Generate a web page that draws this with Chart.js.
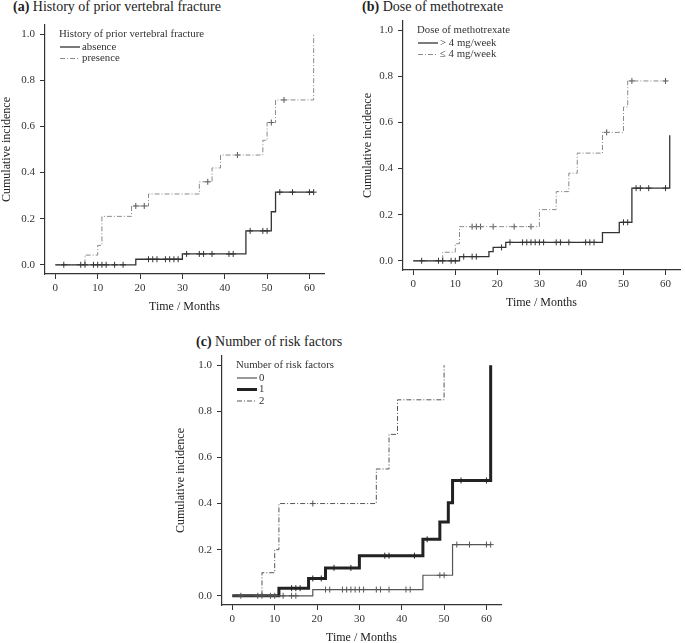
<!DOCTYPE html>
<html>
<head>
<meta charset="utf-8">
<script src="https://cdn.jsdelivr.net/npm/chart.js@4.4.1/dist/chart.umd.min.js"></script>
<style>
  html, body { margin: 0; padding: 0; background: #fff; overflow: hidden; }
  body { width: 685px; height: 643px; position: relative; }
  canvas { position: absolute; }
  .ttl { position: absolute; font: 14px "Liberation Serif", serif; color: #222; line-height: 16px; white-space: nowrap; }
  .ttl b { font-weight: bold; }
</style>
</head>
<body>
<div class="ttl" style="left:13px; top:-1px"><b>(a)</b> History of prior vertebral fracture</div>
<div class="ttl" style="left:362px; top:-1px"><b>(b)</b> Dose of methotrexate</div>
<div class="ttl" style="left:196px; top:334px"><b>(c)</b> Number of risk factors</div>
<canvas id="chartA" width="340" height="320" style="left:0px; top:0px"></canvas>
<canvas id="chartB" width="327" height="316" style="left:358px; top:0px"></canvas>
<canvas id="chartC" width="346" height="320" style="left:170px; top:331px"></canvas>
<script>
// tick labels
const xTickValues = [0, 10, 20, 30, 40, 50, 60];
const yTickValues = [0, 0.2, 0.4, 0.6, 0.8, 1.0];

// (a) history of prior vertebral fracture
const absenceTimes = [0, 19, 30, 45, 51, 52, 61];
const absenceCif = [0, 0.024, 0.047, 0.147, 0.23, 0.315, 0.315];
const absenceCensor = [2, 6, 7, 9, 10, 11, 12, 14, 16, 22, 23, 24, 26, 27, 28, 29, 31, 34, 35, 37, 41, 42, 46, 49, 50, 53, 56, 60, 61];
const presenceTimes = [0, 7, 10, 11, 18, 22, 34, 37, 39, 49, 50, 52, 61];
const presenceCif = [0, 0.042, 0.084, 0.21, 0.255, 0.307, 0.36, 0.42, 0.476, 0.54, 0.617, 0.715, 1.0];
const presenceCensor = [19, 21, 36, 43, 51, 54];

// (b) dose of methotrexate
const highDoseTimes = [0, 11, 18, 19, 22, 45, 49, 52, 61];
const highDoseCif = [0, 0.018, 0.04, 0.058, 0.08, 0.122, 0.167, 0.315, 0.545];
const highDoseCensor = [2, 6, 7, 9, 10, 12, 14, 15, 21, 23, 26, 27, 28, 29, 30, 31, 34, 35, 37, 41, 42, 43, 50, 51, 53, 54, 56, 60];
const lowDoseTimes = [0, 7, 10, 11, 30, 34, 37, 39, 45, 50, 51, 60];
const lowDoseCif = [0, 0.037, 0.074, 0.148, 0.222, 0.30, 0.38, 0.467, 0.557, 0.667, 0.78, 0.78];
const lowDoseCensor = [14, 15, 16, 19, 24, 28, 46, 52, 60];

// (c) number of risk factors
const risk0Times = [0, 19, 45, 52, 61];
const risk0Cif = [0, 0.027, 0.089, 0.222, 0.222];
const risk0Censor = [2, 6, 7, 9, 10, 12, 14, 15, 22, 23, 26, 27, 28, 29, 30, 31, 34, 35, 37, 41, 42, 49, 50, 53, 56, 60, 61];
const risk1Times = [0, 11, 18, 22, 30, 45, 49, 51, 52, 61];
const risk1Cif = [0, 0.033, 0.075, 0.121, 0.174, 0.245, 0.32, 0.403, 0.50, 1.0];
const risk1Censor = [14, 15, 16, 19, 21, 24, 28, 36, 37, 43, 46, 54, 60];
const risk2Times = [0, 7, 10, 11, 34, 37, 39, 50];
const risk2Cif = [0, 0.10, 0.20, 0.40, 0.55, 0.70, 0.85, 1.0];
const risk2Censor = [19];

Chart.defaults.font.family = '"Liberation Serif", serif';
Chart.defaults.color = '#333';

const dotDash = [5, 2, 1, 2];

//valor de la curva en el tiempo t
function stepAt(times, cif, t) {
  let v = cif[0];
  for (let i = 0; i < times.length; i++) {
    if (times[i] <= t) v = cif[i];
  }
  return v;
}

//curva escalonada + marcas de censura
function curveSets(times, cif, censor, style) {
  return [
    {
      data: times.map((t, i) => ({ x: t, y: cif[i] })),
      stepped: true,
      borderColor: style.color,
      borderWidth: style.width,
      borderDash: style.dash || [],
      pointRadius: 0,
      fill: false,
    },
    {
      data: censor.map((t) => ({ x: t, y: stepAt(times, cif, t) })),
      showLine: false,
      pointStyle: "cross",
      pointRadius: 3,
      borderColor: style.mark || style.color,
      borderWidth: 1,
    },
  ];
}

//leyenda dentro del area del grafico
const kmLegend = {
  id: "kmLegend",
  afterDraw(chart, args, opts) {
    const { ctx, chartArea } = chart;
    const x0 = chartArea.left + 14;
    const y0 = chartArea.top + 9;
    ctx.save();
    ctx.font = '10.8px "Liberation Serif"';
    ctx.fillStyle = "#333";
    ctx.textBaseline = "middle";
    ctx.fillText(opts.title, x0, y0);
    opts.items.forEach((it, i) => {
      const y = y0 + 13 + i * 11.5;
      ctx.beginPath();
      ctx.strokeStyle = it.color;
      ctx.lineWidth = it.width;
      ctx.setLineDash(it.dash || []);
      ctx.moveTo(x0 + 1, y);
      ctx.lineTo(x0 + 21, y);
      ctx.stroke();
      ctx.setLineDash([]);
      ctx.fillText(it.label, x0 + 23, y);
    });
    ctx.restore();
  },
};

function makeChart(id, datasets, legend, pad, yWidth, yTitlePad) {
  return new Chart(document.getElementById(id), {
    type: "line",
    data: { datasets: datasets },
    plugins: [kmLegend],
    options: {
      responsive: false,
      animation: false,
      events: [],
      layout: { padding: pad },
      plugins: {
        legend: { display: false },
        tooltip: { enabled: false },
        kmLegend: legend,
      },
      scales: {
        x: {
          type: "linear",
          min: -2.44,
          max: 63.44,
          afterBuildTicks: (s) => { s.ticks = xTickValues.map((v) => ({ value: v })); },
          afterFit: (s) => { s.height = 40; },
          grid: { drawOnChartArea: false, tickLength: 5, color: "#333" },
          border: { color: "#333", width: 1.2 },
          ticks: { font: { size: 11 }, color: "#333", padding: 3, maxRotation: 0 },
          title: { display: true, text: "Time / Months", font: { size: 12 }, color: "#222", padding: { top: 0, bottom: 0 } },
        },
        y: {
          type: "linear",
          min: -0.04,
          max: 1.04,
          afterBuildTicks: (s) => { s.ticks = yTickValues.map((v) => ({ value: v })); },
          afterFit: (s) => { s.width = yWidth; },
          grid: { drawOnChartArea: false, tickLength: 5, color: "#333" },
          border: { color: "#333", width: 1.2 },
          ticks: { font: { size: 11 }, color: "#333", padding: 5, callback: (v) => v.toFixed(1) },
          title: { display: true, text: "Cumulative incidence", font: { size: 12 }, color: "#222", padding: { top: yTitlePad, bottom: 0 } },
        },
      },
    },
  });
}

const solidA = { color: "#333", width: 1.3 };
const dashA = { color: "#8a8a8a", width: 1, dash: dotDash, mark: "#555" };

makeChart("chartA",
  [...curveSets(absenceTimes, absenceCif, absenceCensor, solidA),
   ...curveSets(presenceTimes, presenceCif, presenceCensor, dashA)],
  { title: "History of prior vertebral fracture", items: [
    { label: "absence", ...solidA },
    { label: "presence", ...dashA } ] },
  { left: 0, right: 16, top: 25, bottom: 6 }, 45, 0);

makeChart("chartB",
  [...curveSets(highDoseTimes, highDoseCif, highDoseCensor, solidA),
   ...curveSets(lowDoseTimes, lowDoseCif, lowDoseCensor, dashA)],
  { title: "Dose of methotrexate", items: [
    { label: "> 4 mg/week", ...solidA },
    { label: "≤ 4 mg/week", ...dashA } ] },
  { left: 0, right: 3, top: 21, bottom: 6 }, 45, 2.3);

const thin0 = { color: "#555", width: 1.2 };
const thick1 = { color: "#222", width: 3 };
const dash2 = { color: "#555", width: 1, dash: dotDash };

makeChart("chartC",
  [...curveSets(risk0Times, risk0Cif, risk0Censor, thin0),
   ...curveSets(risk1Times, risk1Cif, risk1Censor, thick1),
   ...curveSets(risk2Times, risk2Cif, risk2Censor, dash2)],
  { title: "Number of risk factors", items: [
    { label: "0", ...thin0 },
    { label: "1", ...thick1 },
    { label: "2", ...dash2 } ] },
  { left: 0, right: 15, top: 25, bottom: 6 }, 52, 3.8);
</script>
</body>
</html>
